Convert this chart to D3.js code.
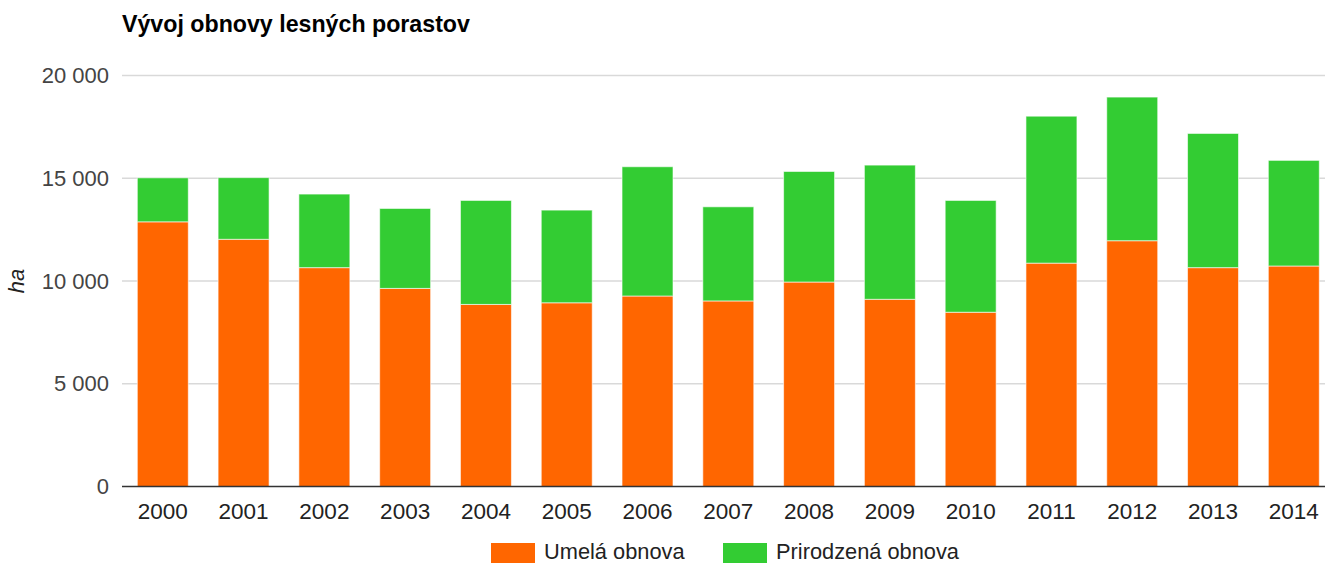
<!DOCTYPE html>
<html>
<head>
<meta charset="utf-8">
<script src="https://cdn.jsdelivr.net/npm/d3@7"></script>
<style>
  html, body { margin: 0; padding: 0; background: #fff; }
  svg { display: block; font-family: "Liberation Sans", Arial, sans-serif; }
</style>
</head>
<body>
<svg id="chart" width="1325" height="563"></svg>
<script>
const title = "Vývoj obnovy lesných porastov";
const yAxisTitle = "ha";
const years = ["2000","2001","2002","2003","2004","2005","2006","2007","2008","2009","2010","2011","2012","2013","2014"];
const umela =      [12880, 12030, 10650, 9640, 8860, 8940, 9270, 9030, 9950, 9110, 8480, 10870, 11960, 10650, 10730];
const prirodzena = [2140, 3000, 3580, 3890, 5060, 4510, 6290, 4580, 5380, 6530, 5440, 7150, 6990, 6530, 5140];
const seriesNames = ["Umelá obnova", "Prirodzená obnova"];
const seriesColors = ["#ff6600", "#33cc33"];
const yTicks = [0, 5000, 10000, 15000, 20000];

const svg = d3.select("#chart");
const W = 1325;

const x = d3.scaleBand().domain(years).range([122.4, 1334.2]).paddingInner(0.369).paddingOuter(0.1845);
const y = d3.scaleLinear().domain([0, 20000]).range([486.5, 75.5]);

const loc = d3.formatLocale({decimal: ",", thousands: " ", grouping: [3], currency: ["", " €"]});
const fmt = loc.format(",d");

// Title
svg.append("text").attr("x", 122).attr("y", 32)
  .attr("font-size", 23.2).attr("font-weight", "bold").attr("fill", "#000")
  .text(title);

// Gridlines
svg.append("g").selectAll("line").data(yTicks.filter(d => d !== 0)).join("line")
  .attr("x1", 122).attr("x2", W).attr("y1", d => y(d)).attr("y2", d => y(d))
  .attr("stroke", "#d9d9d9").attr("stroke-width", 1.5);

// Y axis labels via d3 axis
const yAxis = d3.axisLeft(y).tickValues(yTicks).tickFormat(fmt).tickSize(0).tickPadding(0);
const gy = svg.append("g").attr("transform", "translate(109,0)").call(yAxis);
gy.select(".domain").remove();
gy.selectAll("text").attr("font-size", 22).attr("fill", "#444")
  .attr("font-family", "'Liberation Sans', Arial, sans-serif");

// Y axis title
svg.append("text").attr("transform", "translate(24,281) rotate(-90)")
  .attr("text-anchor", "middle").attr("font-size", 22).attr("font-style", "italic").attr("fill", "#222")
  .text(yAxisTitle);

// Stacked data
const rows = years.map((yr, i) => ({year: yr, u: umela[i], p: prirodzena[i]}));
const stack = d3.stack().keys(["u", "p"])(rows);

svg.append("g").selectAll("g").data(stack).join("g")
  .attr("fill", (d, i) => seriesColors[i])
  .selectAll("rect").data(d => d).join("rect")
  .attr("x", d => x(d.data.year))
  .attr("width", x.bandwidth())
  .attr("y", d => y(d[1]))
  .attr("height", d => y(d[0]) - y(d[1]))
  .attr("stroke", "#ffffff").attr("stroke-opacity", 0.6).attr("stroke-width", 1);

// Baseline
svg.append("line").attr("x1", 122).attr("x2", W).attr("y1", y(0)).attr("y2", y(0))
  .attr("stroke", "#333").attr("stroke-width", 1.5);

// X axis labels
const xAxis = d3.axisBottom(x).tickSize(0).tickPadding(0);
const gx = svg.append("g").attr("transform", "translate(0,503)").call(xAxis);
gx.select(".domain").remove();
gx.selectAll("text").attr("font-size", 22.5).attr("fill", "#222")
  .attr("dy", "0.71em")
  .attr("font-family", "'Liberation Sans', Arial, sans-serif");

// Legend
const legendX = [491, 723];
const lg = svg.append("g").selectAll("g").data(seriesNames).join("g")
  .attr("transform", (d, i) => `translate(${legendX[i]},543)`);
lg.append("rect").attr("width", 44).attr("height", 21).attr("fill", (d, i) => seriesColors[i]);
lg.append("text").attr("x", 53).attr("y", 16).attr("font-size", 21.8).attr("fill", "#222").text(d => d);
</script>
</body>
</html>
